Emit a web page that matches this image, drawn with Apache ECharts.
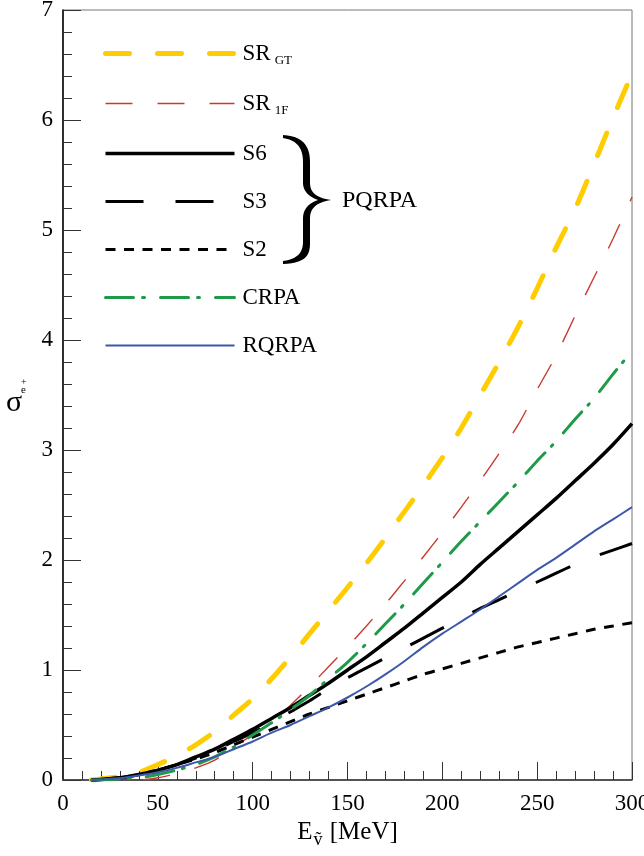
<!DOCTYPE html>
<html><head><meta charset="utf-8">
<script src="https://cdn.jsdelivr.net/npm/echarts@6/dist/echarts.min.js"></script>
<style>html,body{margin:0;padding:0;background:#fff}#c{width:644px;height:856px}</style>
</head><body><div id="c"></div>
<script>
// Neutrino energy grid [MeV]
const energy = [15,20,30,40,50,60,70,80,90,100,110,120,130,140,150,160,170,180,190,200,210,220,230,240,250,260,270,280,290,300];
// cross sections
const srGT  = [0.00,0.01,0.03,0.07,0.14,0.22,0.32,0.44,0.59,0.74,0.92,1.12,1.33,1.54,1.75,1.97,2.20,2.44,2.68,2.93,3.20,3.50,3.80,4.12,4.47,4.84,5.19,5.60,6.02,6.42];
const sr1F  = [0.00,0.00,0.00,0.00,0.02,0.06,0.11,0.18,0.30,0.41,0.53,0.68,0.85,1.03,1.21,1.40,1.60,1.81,2.03,2.25,2.48,2.72,2.97,3.23,3.55,3.86,4.22,4.57,4.92,5.30];
const s6    = [0.00,0.005,0.02,0.05,0.09,0.14,0.21,0.28,0.37,0.46,0.56,0.66,0.77,0.88,1.00,1.12,1.25,1.38,1.52,1.66,1.80,1.96,2.11,2.26,2.41,2.56,2.72,2.88,3.05,3.24];
const s3    = [0.00,0.005,0.02,0.05,0.09,0.14,0.20,0.27,0.35,0.43,0.52,0.62,0.72,0.83,0.93,1.02,1.11,1.20,1.29,1.38,1.47,1.56,1.64,1.72,1.80,1.88,1.96,2.03,2.09,2.15];
const s2    = [0.00,0.005,0.02,0.05,0.09,0.14,0.19,0.25,0.32,0.39,0.46,0.53,0.60,0.66,0.72,0.78,0.84,0.90,0.96,1.01,1.06,1.11,1.16,1.21,1.25,1.29,1.33,1.37,1.40,1.43];
const crpa  = [0.00,0.00,0.01,0.02,0.05,0.09,0.14,0.21,0.30,0.41,0.52,0.64,0.77,0.92,1.07,1.24,1.42,1.60,1.79,1.98,2.17,2.35,2.53,2.71,2.90,3.08,3.28,3.47,3.69,3.90];
const rqrpa = [0.00,0.005,0.015,0.04,0.07,0.11,0.16,0.21,0.28,0.35,0.43,0.50,0.58,0.66,0.75,0.85,0.96,1.08,1.21,1.33,1.44,1.55,1.67,1.79,1.91,2.02,2.14,2.26,2.37,2.48];
const xTicks = [0,50,100,150,200,250,300];
const yTicks = [0,1,2,3,4,5,6,7];
const seriesNames = ['SR_GT','SR_1F','S6','S3','S2','CRPA','RQRPA'];

const FONT = '"Liberation Serif","Times New Roman",serif';
const pairs = v => energy.map((e,i)=>[e,v[i]]);

const styles = {
  'SR_GT': {data: srGT,  color:'#FFCC00', width:5,   type:[24,28], cap:'round'},
  'SR_1F': {data: sr1F,  color:'#C93A2E', width:1.4, type:[27,25], cap:'butt'},
  'S6':    {data: s6,    color:'#000000', width:3.5, type:'solid', cap:'butt'},
  'S3':    {data: s3,    color:'#000000', width:3,   type:[38,32], cap:'butt'},
  'S2':    {data: s2,    color:'#000000', width:3,   type:[10,8.5], cap:'butt'},
  'CRPA':  {data: crpa,  color:'#1E9A48', width:3,   type:[28,9,2,16], cap:'round'},
  'RQRPA': {data: rqrpa, color:'#3D58AA', width:2,   type:'solid', cap:'butt'}
};

const legendLabels = {
  'SR_GT':'{m|SR}{s|GT}', 'SR_1F':'{m|SR}{s|1F}', 'S6':'{m|S6}', 'S3':'{m|S3}',
  'S2':'{m|S2}', 'CRPA':'{m|CRPA}', 'RQRPA':'{m|RQRPA}'
};

// curly brace outline (decoration) sampled from cubic curves
function cubic(p0,p1,p2,p3,n){
  const out=[];
  for(let i=1;i<=n;i++){const t=i/n,u=1-t;
    out.push([u*u*u*p0[0]+3*u*u*t*p1[0]+3*u*t*t*p2[0]+t*t*t*p3[0],
              u*u*u*p0[1]+3*u*u*t*p1[1]+3*u*t*t*p2[1]+t*t*t*p3[1]]);}
  return out;
}
function bracePoints(){
  let pts=[[283,135]];
  pts=pts.concat(cubic([283,135],[302,136],[310,145],[310,162],12));
  pts.push([310,183]);
  pts=pts.concat(cubic([310,183],[310,193],[317,198],[331,200],10));
  pts=pts.concat(cubic([331,200],[317,202],[310,208],[310,218],10));
  pts.push([310,244]);
  pts=pts.concat(cubic([310,244],[310,258],[302,263],[283,264],12));
  pts.push([283,261]);
  pts=pts.concat(cubic([283,261],[297,259],[303,253],[303,242],12));
  pts.push([303,218]);
  pts=pts.concat(cubic([303,218],[303,209],[309,203],[318,200],10));
  pts=pts.concat(cubic([318,200],[309,197],[303,191],[303,183],10));
  pts.push([303,162]);
  pts=pts.concat(cubic([303,162],[303,148],[297,140],[283,138],12));
  return pts;
}

const chart = echarts.init(document.getElementById('c'));
const option = {
  animation: false,
  backgroundColor: '#fff',
  grid: {left:63, right:12, top:10, bottom:76, show:true, borderColor:'#777', borderWidth:1,
         outerBoundsMode:'none', containLabel:false},
  xAxis: {
    type:'value', min:0, max:300, interval:50,
    axisLine:{onZero:false, lineStyle:{color:'#333', width:1.5}},
    axisTick:{inside:true, length:18, lineStyle:{color:'#333', width:1}},
    minorTick:{show:true, splitNumber:5, length:9, lineStyle:{color:'#333', width:1}},
    splitLine:{show:false},
    axisLabel:{fontFamily:FONT, fontSize:23, color:'#000', margin:12, hideOverlap:false,
      formatter: v => xTicks.indexOf(v) >= 0 ? String(v) : ''},
    name:'{E|E}{v|ṽ}{r| [MeV]}',
    nameLocation:'middle', nameGap:36,
    nameTextStyle:{fontFamily:FONT, color:'#000', fontSize:25,
      rich:{E:{fontFamily:FONT,fontSize:25,color:'#000',verticalAlign:'top',lineHeight:25},
            v:{fontFamily:FONT,fontSize:18,color:'#000',verticalAlign:'top',lineHeight:18,padding:[11,1,0,1]},
            r:{fontFamily:FONT,fontSize:25,color:'#000',verticalAlign:'top',lineHeight:25}}}
  },
  yAxis: {
    type:'value', min:0, max:7, interval:1,
    axisLine:{show:true, lineStyle:{color:'#000', width:1.5}},
    axisTick:{inside:true, length:18, lineStyle:{color:'#333', width:1}},
    minorTick:{show:true, splitNumber:5, length:9, lineStyle:{color:'#333', width:1}},
    splitLine:{show:false},
    axisLabel:{fontFamily:FONT, fontSize:23, color:'#000', margin:10, hideOverlap:false,
      formatter: v => yTicks.indexOf(v) >= 0 ? String(v) : ''}
  },
  legend: {
    orient:'vertical', left:103, top:42, padding:0,
    itemWidth:129, itemHeight:20, itemGap:25,
    itemStyle:{opacity:0, borderWidth:0},
    lineStyle:{width:'inherit'},
    data: seriesNames,
    formatter: n => legendLabels[n],
    textStyle:{fontFamily:FONT, fontSize:23, color:'#000', padding:[0,0,0,3],
      rich:{m:{fontFamily:FONT,fontSize:23,color:'#000',verticalAlign:'top',lineHeight:23},
            s:{fontFamily:FONT,fontSize:13,color:'#000',verticalAlign:'top',lineHeight:13,padding:[12,0,0,4]}}}
  },
  graphic: [
    {type:'polygon', z:100, shape:{points: bracePoints()}, style:{fill:'#000'}},
    {type:'text', left:342, top:189, z:100,
     style:{text:'PQRPA', font:'24px ' + FONT, fill:'#000'}},
    {type:'text', left:6, top:388, z:100,
     style:{text:'σ', font:'30px ' + FONT, fill:'#000'}},
    {type:'text', left:21, top:385, z:100,
     style:{text:'e', font:'11px ' + FONT, fill:'#000'}},
    {type:'text', left:21, top:377, z:100,
     style:{text:'+', font:'10px ' + FONT, fill:'#000'}}
  ],
  series: seriesNames.map(n => ({
    name:n, type:'line', showSymbol:false, symbol:'none',
    smooth:0.25,
    data: pairs(styles[n].data),
    lineStyle:{color:styles[n].color, width:styles[n].width, type:styles[n].type, cap:styles[n].cap},
    itemStyle:{color:styles[n].color}
  }))
};
chart.setOption(option);
</script>
</body></html>
